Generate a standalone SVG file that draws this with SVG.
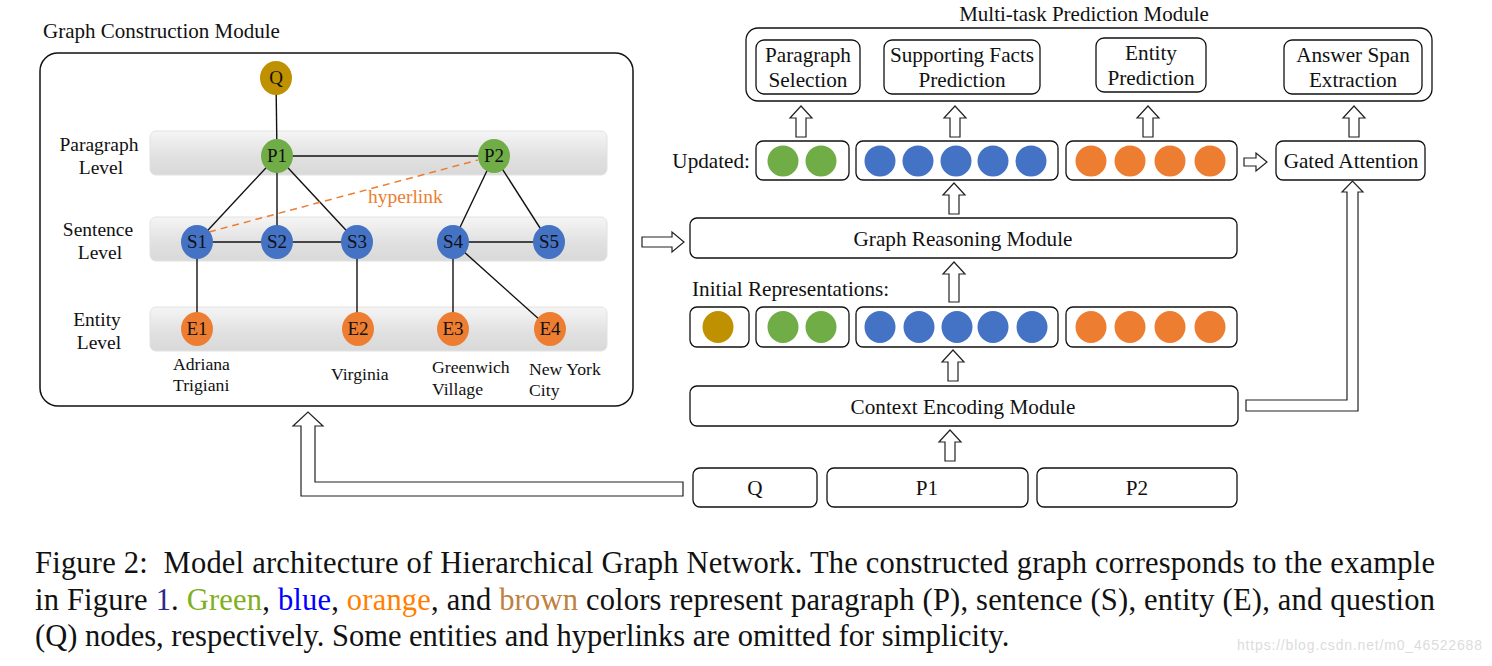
<svg xmlns="http://www.w3.org/2000/svg" width="1492" height="666" viewBox="0 0 1492 666">
<defs>
<linearGradient id="band" x1="0" y1="0" x2="0" y2="1">
<stop offset="0" stop-color="#f5f5f5"/>
<stop offset="0.6" stop-color="#e0e0e0"/>
<stop offset="1" stop-color="#d9d9d9"/>
</linearGradient>
</defs>
<style>
text{font-family:"Liberation Serif","Times New Roman",serif;fill:#111}
.t19{font-size:19.5px}
.t21{font-size:21px}
.t20{font-size:21.2px}
.t18{font-size:17.7px}
.mid{text-anchor:middle}
.box{fill:#fff;stroke:#111;stroke-width:1.3}
.band{fill:url(#band);stroke:#e2e2e2;stroke-width:1}
.edge{stroke:#111;stroke-width:1.4;fill:none}
.hyper{stroke:#ed7d31;stroke-width:1.5;stroke-dasharray:7 5;fill:none}
.arr{fill:#fff;stroke:#222;stroke-width:1.2;stroke-linejoin:miter}
.q{fill:#bf9000}.p{fill:#70ad47}.s{fill:#4472c4}.e{fill:#ed7d31}
.nl{font-size:19px;text-anchor:middle}
.cap{font-size:30.5px}
</style>

<!-- Graph Construction Module -->
<g id="graph-construction">
<text class="t21" x="43" y="38">Graph Construction Module</text>
<rect x="40" y="53" width="593" height="353" rx="18" fill="#fff" stroke="#111" stroke-width="1.5"/>
<rect class="band" x="150" y="131" width="457" height="44" rx="6"/>
<rect class="band" x="150" y="217" width="457" height="44" rx="6"/>
<rect class="band" x="150" y="307" width="457" height="44" rx="6"/>
<text class="t19 mid" x="99" y="151">Paragraph</text>
<text class="t19 mid" x="101" y="174">Level</text>
<text class="t19 mid" x="98" y="236">Sentence</text>
<text class="t19 mid" x="100" y="259">Level</text>
<text class="t19 mid" x="97" y="326">Entity</text>
<text class="t19 mid" x="99" y="349">Level</text>
</g>

<g id="graph-edges">
<line class="edge" x1="276" y1="78" x2="277" y2="156"/>
<line class="edge" x1="277" y1="156" x2="494" y2="156"/>
<line class="edge" x1="277" y1="156" x2="197" y2="242"/>
<line class="edge" x1="277" y1="156" x2="277" y2="242"/>
<line class="edge" x1="277" y1="156" x2="357" y2="242"/>
<line class="edge" x1="494" y1="156" x2="453" y2="242"/>
<line class="edge" x1="494" y1="156" x2="549" y2="242"/>
<line class="edge" x1="197" y1="242" x2="357" y2="242"/>
<line class="edge" x1="453" y1="242" x2="549" y2="242"/>
<line class="edge" x1="197" y1="242" x2="197" y2="329"/>
<line class="edge" x1="357" y1="242" x2="357" y2="329"/>
<line class="edge" x1="453" y1="242" x2="453" y2="329"/>
<line class="edge" x1="453" y1="242" x2="550" y2="329"/>
<line class="hyper" x1="209" y1="232" x2="478" y2="160"/>
<text class="t19" x="368" y="203" style="fill:#ed7d31">hyperlink</text>
</g>

<g id="node-Q"><ellipse class="q" cx="276" cy="78" rx="16" ry="17"/><text class="nl" x="276" y="84">Q</text></g>
<g id="node-P1"><ellipse class="p" cx="277" cy="156" rx="16" ry="17"/><text class="nl" x="277" y="162">P1</text></g>
<g id="node-P2"><ellipse class="p" cx="494" cy="156" rx="16" ry="17"/><text class="nl" x="494" y="162">P2</text></g>
<g id="node-S1"><ellipse class="s" cx="197" cy="242" rx="16" ry="17"/><text class="nl" x="197" y="248">S1</text></g>
<g id="node-S2"><ellipse class="s" cx="277" cy="242" rx="16" ry="17"/><text class="nl" x="277" y="248">S2</text></g>
<g id="node-S3"><ellipse class="s" cx="357" cy="242" rx="16" ry="17"/><text class="nl" x="357" y="248">S3</text></g>
<g id="node-S4"><ellipse class="s" cx="453" cy="242" rx="16" ry="17"/><text class="nl" x="453" y="248">S4</text></g>
<g id="node-S5"><ellipse class="s" cx="549" cy="242" rx="16" ry="17"/><text class="nl" x="549" y="248">S5</text></g>
<g id="node-E1"><ellipse class="e" cx="197" cy="329" rx="16" ry="17"/><text class="nl" x="197" y="335">E1</text></g>
<g id="node-E2"><ellipse class="e" cx="358" cy="329" rx="16" ry="17"/><text class="nl" x="358" y="335">E2</text></g>
<g id="node-E3"><ellipse class="e" cx="453" cy="329" rx="16" ry="17"/><text class="nl" x="453" y="335">E3</text></g>
<g id="node-E4"><ellipse class="e" cx="550" cy="329" rx="16" ry="17"/><text class="nl" x="550" y="335">E4</text></g>

<g id="entity-labels">
<text class="t18" x="173" y="370">Adriana</text>
<text class="t18" x="173" y="391">Trigiani</text>
<text class="t18" x="331" y="380">Virginia</text>
<text class="t18" x="432" y="373">Greenwich</text>
<text class="t18" x="432" y="395">Village</text>
<text class="t18" x="529" y="375">New York</text>
<text class="t18" x="529" y="396">City</text>
</g>

<!-- Multi-task Prediction Module -->
<g id="multitask">
<text class="t21 mid" x="1084" y="21">Multi-task Prediction Module</text>
<rect class="box" x="746" y="28" width="686" height="73" rx="12"/>
</g>
<g id="paragraph-selection">
<rect class="box" x="756" y="40" width="104" height="54" rx="8"/>
<text class="t20 mid" x="808" y="62">Paragraph</text>
<text class="t20 mid" x="808" y="87">Selection</text>
</g>
<g id="supporting-facts">
<rect class="box" x="884" y="40" width="156" height="54" rx="8"/>
<text class="t20 mid" x="962" y="62">Supporting Facts</text>
<text class="t20 mid" x="962" y="87">Prediction</text>
</g>
<g id="entity-prediction">
<rect class="box" x="1096" y="38" width="110" height="54" rx="8"/>
<text class="t20 mid" x="1151" y="60">Entity</text>
<text class="t20 mid" x="1151" y="85">Prediction</text>
</g>
<g id="answer-span">
<rect class="box" x="1284" y="40" width="138" height="54" rx="8"/>
<text class="t20 mid" x="1353" y="62">Answer Span</text>
<text class="t20 mid" x="1353" y="87">Extraction</text>
</g>

<!-- Updated representations -->
<g id="updated">
<text class="t20" x="750" y="168" text-anchor="end">Updated:</text>
<rect class="box" x="756" y="141" width="93" height="39" rx="7"/>
<circle class="p" cx="783" cy="161" r="15.5"/><circle class="p" cx="821" cy="161" r="15.5"/>
<rect class="box" x="856" y="141" width="202" height="39" rx="7"/>
<circle class="s" cx="880" cy="161" r="15.5"/><circle class="s" cx="918" cy="161" r="15.5"/><circle class="s" cx="956" cy="161" r="15.5"/><circle class="s" cx="993" cy="161" r="15.5"/><circle class="s" cx="1031" cy="161" r="15.5"/>
<rect class="box" x="1066" y="141" width="171" height="39" rx="7"/>
<circle class="e" cx="1091" cy="161" r="15.5"/><circle class="e" cx="1130" cy="161" r="15.5"/><circle class="e" cx="1170" cy="161" r="15.5"/><circle class="e" cx="1210" cy="161" r="15.5"/>
</g>
<g id="gated-attention">
<rect class="box" x="1276" y="141" width="149" height="39" rx="7"/>
<text class="t20 mid" x="1351" y="168">Gated Attention</text>
</g>

<g id="graph-reasoning">
<rect class="box" x="690" y="218" width="547" height="40" rx="7"/>
<text class="t20 mid" x="963" y="246">Graph Reasoning Module</text>
</g>

<g id="initial">
<text class="t20" x="692" y="296">Initial Representations:</text>
<rect class="box" x="690" y="307" width="59" height="40" rx="7"/>
<ellipse class="q" cx="718" cy="327" rx="15.5" ry="16"/>
<rect class="box" x="756" y="307" width="93" height="40" rx="7"/>
<ellipse class="p" cx="783" cy="327" rx="15.5" ry="16"/><ellipse class="p" cx="821" cy="327" rx="15.5" ry="16"/>
<rect class="box" x="856" y="307" width="202" height="40" rx="7"/>
<ellipse class="s" cx="880" cy="327" rx="15.5" ry="16"/><ellipse class="s" cx="919" cy="327" rx="15.5" ry="16"/><ellipse class="s" cx="957" cy="327" rx="15.5" ry="16"/><ellipse class="s" cx="993" cy="327" rx="15.5" ry="16"/><ellipse class="s" cx="1032" cy="327" rx="15.5" ry="16"/>
<rect class="box" x="1066" y="307" width="171" height="40" rx="7"/>
<ellipse class="e" cx="1091" cy="327" rx="15.5" ry="16"/><ellipse class="e" cx="1130" cy="327" rx="15.5" ry="16"/><ellipse class="e" cx="1170" cy="327" rx="15.5" ry="16"/><ellipse class="e" cx="1210" cy="327" rx="15.5" ry="16"/>
</g>

<g id="context-encoding">
<rect class="box" x="690" y="386" width="548" height="40" rx="7"/>
<text class="t20 mid" x="963" y="414">Context Encoding Module</text>
</g>

<g id="input-Q"><rect class="box" x="693" y="468" width="124" height="39" rx="7"/><text class="t20 mid" x="755" y="495">Q</text></g>
<g id="input-P1"><rect class="box" x="827" y="468" width="201" height="39" rx="7"/><text class="t20 mid" x="927" y="495">P1</text></g>
<g id="input-P2"><rect class="box" x="1037" y="468" width="200" height="39" rx="7"/><text class="t20 mid" x="1137" y="495">P2</text></g>

<!-- Hollow arrows -->
<g id="connectors">
<path class="arr" d="M801,106 L812,118 L806,118 L806,137 L796,137 L796,118 L790,118 Z"/>
<path class="arr" d="M955,106 L966,118 L960,118 L960,137 L950,137 L950,118 L944,118 Z"/>
<path class="arr" d="M1148,106 L1159,118 L1153,118 L1153,137 L1143,137 L1143,118 L1137,118 Z"/>
<path class="arr" d="M1354,106 L1365,118 L1359,118 L1359,137 L1349,137 L1349,118 L1343,118 Z"/>
<path class="arr" d="M954,183 L965,195 L959,195 L959,214 L949,214 L949,195 L943,195 Z"/>
<path class="arr" d="M954,262 L965,274 L959,274 L959,302 L949,302 L949,274 L943,274 Z"/>
<path class="arr" d="M953,350 L964,362 L958,362 L958,381 L948,381 L948,362 L942,362 Z"/>
<path class="arr" d="M950,430 L961,442 L955,442 L955,461 L945,461 L945,442 L939,442 Z"/>
<path class="arr" d="M1244,158 L1256,158 L1256,153 L1267,162 L1256,171 L1256,166 L1244,166 Z"/>
<path class="arr" d="M642,237 L672,237 L672,232 L684,242 L672,252 L672,247 L642,247 Z"/>
<path class="arr" d="M1246,400 L1347,400 L1347,192 L1342,192 L1352.5,181 L1363,192 L1358,192 L1358,411 L1246,411 Z"/>
<path class="arr" d="M683,482 L315,482 L315,426 L323,426 L308,412 L293,426 L301,426 L301,496 L683,496 Z"/>
</g>

<!-- Caption -->
<g id="caption">
<text class="cap" x="35" y="573" textLength="1400" lengthAdjust="spacing">Figure 2:&#160; Model architecture of Hierarchical Graph Network. The constructed graph corresponds to the example</text>
<text class="cap" x="35" y="610" textLength="1400" lengthAdjust="spacing">in Figure <tspan style="fill:#2a2a8a">1</tspan>. <tspan style="fill:#80b020">Green</tspan>, <tspan style="fill:#0000ff">blue</tspan>, <tspan style="fill:#ff8000">orange</tspan>, and <tspan style="fill:#c08040">brown</tspan> colors represent paragraph (P), sentence (S), entity (E), and question</text>
<text class="cap" x="35" y="646">(Q) nodes, respectively. Some entities and hyperlinks are omitted for simplicity.</text>
<text x="1237" y="650" textLength="245" style="font-family:'Liberation Sans',Arial,sans-serif;font-size:14px;fill:#dcdcdc">https://blog.csdn.net/m0_46522688</text>
</g>
</svg>
